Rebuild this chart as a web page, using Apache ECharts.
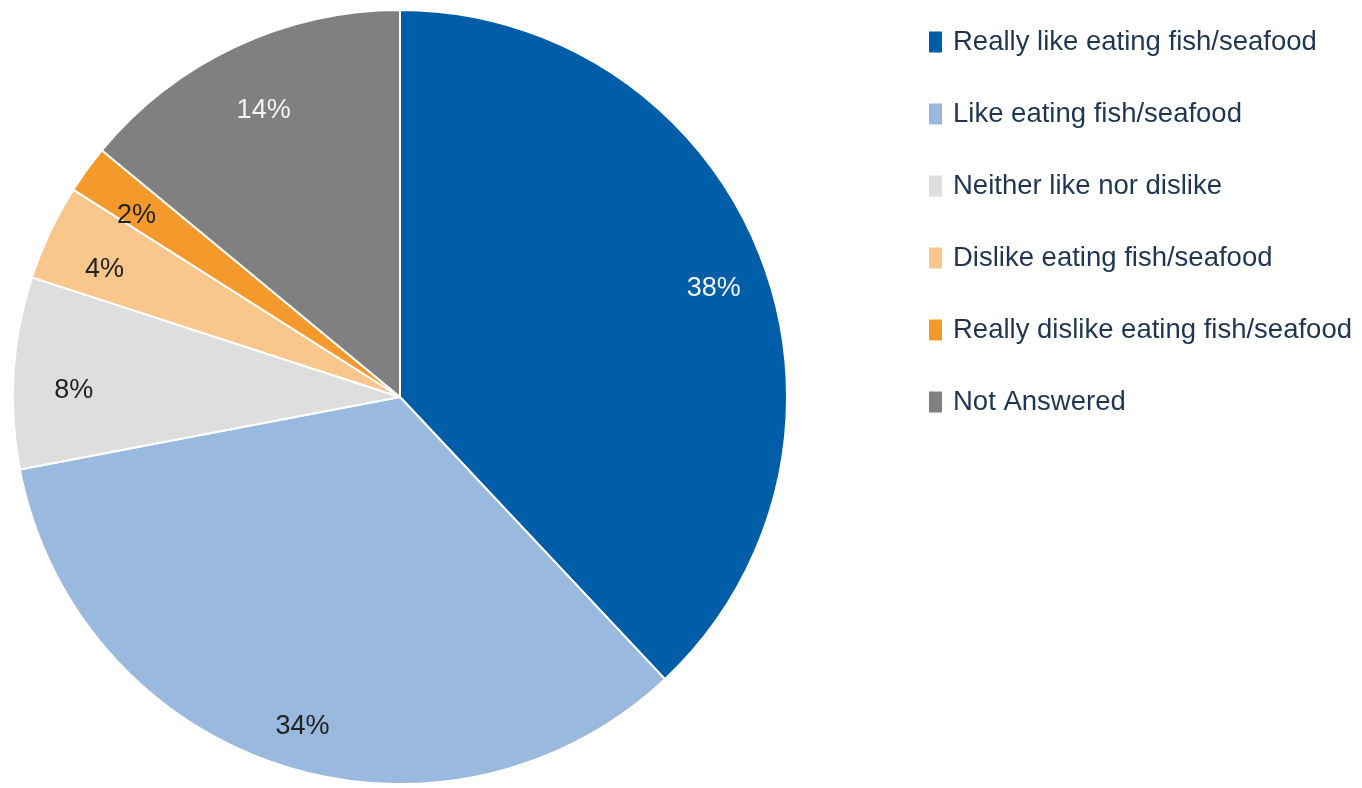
<!DOCTYPE html>
<html>
<head>
<meta charset="utf-8">
<title>Attitudes to eating fish/seafood</title>
<script src="https://cdn.jsdelivr.net/npm/echarts@6/dist/echarts.min.js"></script>
<style>
  html, body { margin: 0; padding: 0; background: #ffffff; }
  #chart { width: 1362px; height: 788px; }
</style>
</head>
<body>
<div id="chart"></div>
<script>
// Response categories and their share of respondents (%)
const categories = [
  'Really like eating fish/seafood',
  'Like eating fish/seafood',
  'Neither like nor dislike',
  'Dislike eating fish/seafood',
  'Really dislike eating fish/seafood',
  'Not Answered'
];
const shares = [38, 34, 8, 4, 2, 14];
const sliceColors = ['#005DA8', '#9AB9DF', '#DEDEDE', '#F9C68C', '#F4992C', '#808080'];
const labelColors = ['#F4F4F4', '#222222', '#222222', '#222222', '#222222', '#F4F4F4'];

const FONT = '"Liberation Sans", Arial, Helvetica, sans-serif';

const sliceData = categories.map((name, i) => ({
  name,
  value: shares[i],
  itemStyle: { color: sliceColors[i] }
}));

// Transparent ring used only to place the percentage labels near the rim
const labelData = categories.map((name, i) => ({
  name,
  value: shares[i],
  label: { color: labelColors[i] }
}));

const chart = echarts.init(document.getElementById('chart'), null, { renderer: 'canvas' });
chart.setOption({
  animation: false,
  backgroundColor: '#ffffff',
  legend: {
    orient: 'vertical',
    left: 927,
    top: 27,
    padding: 0,
    itemWidth: 15,
    itemHeight: 23,
    itemGap: 42,
    icon: 'rect',
    selectedMode: false,
    data: categories,
    textStyle: {
      fontFamily: FONT,
      fontSize: 27.5,
      color: '#1F3552',
      lineHeight: 30,
      padding: [0, 0, 0, 5]
    }
  },
  series: [
    {
      type: 'pie',
      center: [400, 397],
      radius: [0, 387],
      startAngle: 90,
      clockwise: true,
      silent: true,
      label: { show: false },
      labelLine: { show: false },
      itemStyle: { borderColor: '#ffffff', borderWidth: 2 },
      data: sliceData
    },
    {
      type: 'pie',
      center: [400, 397],
      radius: [271, 387],
      startAngle: 90,
      clockwise: true,
      silent: true,
      itemStyle: { color: 'rgba(0,0,0,0)' },
      label: {
        show: true,
        position: 'inside',
        formatter: '{c}%',
        fontFamily: FONT,
        fontSize: 27,
        offset: [5, 14]
      },
      labelLine: { show: false },
      data: labelData
    }
  ]
});
</script>
</body>
</html>
